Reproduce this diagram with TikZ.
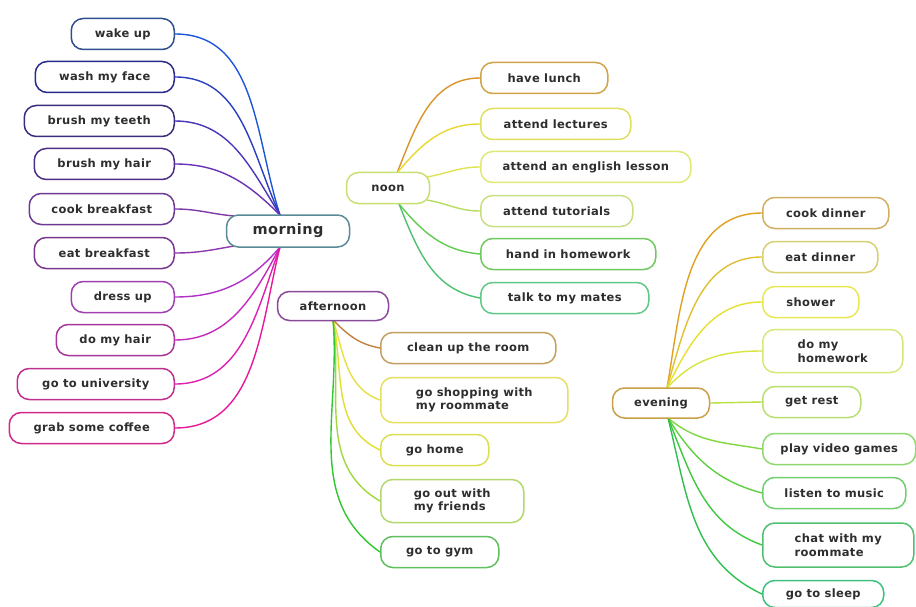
\documentclass[tikz,border=0pt]{standalone}
\usepackage{fontspec}
\newfontfamily\nodefont[LetterSpace=3]{DejaVu Sans}
\usetikzlibrary{backgrounds}
\definecolor{txt}{HTML}{2E2E2E}
% morning branch
\definecolor{mA}{HTML}{1F55D8}\definecolor{bA}{HTML}{2F4F8F}
\definecolor{mB}{HTML}{2A3FC0}\definecolor{bB}{HTML}{2A2A88}
\definecolor{mC}{HTML}{4A35B8}\definecolor{bC}{HTML}{3D2C7C}
\definecolor{mD}{HTML}{6A30B8}\definecolor{bD}{HTML}{4E2E86}
\definecolor{mE}{HTML}{7E3AA8}\definecolor{bE}{HTML}{6E3A94}
\definecolor{mF}{HTML}{9035B0}\definecolor{bF}{HTML}{7A3690}
\definecolor{mG}{HTML}{B030C8}\definecolor{bG}{HTML}{A040B0}
\definecolor{mH}{HTML}{C828C0}\definecolor{bH}{HTML}{A83598}
\definecolor{mI}{HTML}{DC20B0}\definecolor{bI}{HTML}{C03090}
\definecolor{mJ}{HTML}{E8189A}\definecolor{bJ}{HTML}{D02A88}
\definecolor{bMorning}{HTML}{5A8A98}
% noon branch
\definecolor{bNoon}{HTML}{C8E070}
\definecolor{n1}{HTML}{D89428}\definecolor{nb1}{HTML}{D0A448}
\definecolor{n2}{HTML}{E8D830}\definecolor{nb2}{HTML}{E0E060}
\definecolor{n3}{HTML}{E0E450}\definecolor{nb3}{HTML}{E0E878}
\definecolor{n4}{HTML}{B8DC60}\definecolor{nb4}{HTML}{C8E080}
\definecolor{n5}{HTML}{60CC50}\definecolor{nb5}{HTML}{70C860}
\definecolor{n6}{HTML}{50C070}\definecolor{nb6}{HTML}{60C888}
% afternoon branch
\definecolor{bAfter}{HTML}{8A4A9A}
\definecolor{a1}{HTML}{C48040}\definecolor{ab1}{HTML}{C4A060}
\definecolor{a2}{HTML}{E8E040}\definecolor{ab2}{HTML}{E8E060}
\definecolor{a3}{HTML}{E0E030}\definecolor{ab3}{HTML}{DCE050}
\definecolor{a4}{HTML}{A0D840}\definecolor{ab4}{HTML}{B4D870}
\definecolor{a5}{HTML}{30C830}\definecolor{ab5}{HTML}{60C060}
% evening branch
\definecolor{bEve}{HTML}{C8A048}
\definecolor{e1}{HTML}{E0A020}\definecolor{eb1}{HTML}{D0B060}
\definecolor{e2}{HTML}{E0C030}\definecolor{eb2}{HTML}{D8D070}
\definecolor{e3}{HTML}{E8E030}\definecolor{eb3}{HTML}{E8E850}
\definecolor{e4}{HTML}{D8E440}\definecolor{eb4}{HTML}{D8E878}
\definecolor{e5}{HTML}{B8E040}\definecolor{eb5}{HTML}{B8E070}
\definecolor{e6}{HTML}{80D840}\definecolor{eb6}{HTML}{90D870}
\definecolor{e7}{HTML}{60D040}\definecolor{eb7}{HTML}{70D070}
\definecolor{e8}{HTML}{40C840}\definecolor{eb8}{HTML}{50C070}
\definecolor{e9}{HTML}{30C050}\definecolor{eb9}{HTML}{40C080}
\tikzset{
  box/.style={draw, rounded corners=12pt, line width=1.5pt, fill=white,
    minimum height=31pt, inner xsep=4pt, inner ysep=3pt, text=txt,
    font=\nodefont\bfseries\fontsize{11.5}{13.5}\selectfont, align=left},
  link/.style={line width=1.4pt},
}
\begin{document}
\begin{tikzpicture}[x=1pt,y=1pt]
\useasboundingbox (0,0) rectangle (916,-607);
% hubs
\node[box, draw=bMorning, minimum width=123pt, minimum height=32pt,
  font=\nodefont\bfseries\fontsize{14.5}{16}\selectfont] (morning) at (288,-231) {morning};
\node[box, draw=bNoon, minimum width=83pt] (noon) at (388,-188) {noon};
\node[box, draw=bAfter, minimum width=111pt, minimum height=29pt] (afternoon) at (333,-306) {afternoon};
\node[box, draw=bEve, minimum width=97pt, minimum height=30pt] (evening) at (661,-403) {evening};
% morning children
\node[box, draw=bA, anchor=east, minimum width=103pt] (wake) at (175,-34) {wake up};
\node[box, draw=bB, anchor=east, minimum width=139pt] (wash) at (175,-77) {wash my face};
\node[box, draw=bC, anchor=east, minimum width=150pt] (teeth) at (175,-121) {brush my teeth};
\node[box, draw=bD, anchor=east, minimum width=140pt] (hair) at (175,-164) {brush my hair};
\node[box, draw=bE, anchor=east, minimum width=145pt] (cook) at (175,-209) {cook breakfast};
\node[box, draw=bF, anchor=east, minimum width=140pt] (eat) at (175,-253) {eat breakfast};
\node[box, draw=bG, anchor=east, minimum width=103pt] (dress) at (175,-297) {dress up};
\node[box, draw=bH, anchor=east, minimum width=118pt] (dohair) at (175,-340) {do my hair};
\node[box, draw=bI, anchor=east, minimum width=157pt] (univ) at (175,-384) {go to university};
\node[box, draw=bJ, anchor=east, minimum width=165pt] (coffee) at (175,-428) {grab some coffee};
% noon children
\node[box, draw=nb1, anchor=west, minimum width=127pt] (lunch) at (480,-78) {have lunch};
\node[box, draw=nb2, anchor=west, minimum width=150pt] (lectures) at (480,-124) {attend lectures};
\node[box, draw=nb3, anchor=west, minimum width=210pt] (english) at (480,-167) {attend an english lesson};
\node[box, draw=nb4, anchor=west, minimum width=152pt] (tutorials) at (480,-211) {attend tutorials};
\node[box, draw=nb5, anchor=west, minimum width=175pt] (handin) at (480,-254) {hand in homework};
\node[box, draw=nb6, anchor=west, minimum width=168pt] (mates) at (480,-298) {talk to my mates};
% afternoon children
\node[box, draw=ab1, anchor=west, minimum width=175pt] (clean) at (380,-348) {clean up the room};
\node[box, draw=ab2, anchor=west, minimum width=187pt, minimum height=45pt] (shopping) at (380,-400) {go shopping with\\my roommate};
\node[box, draw=ab3, anchor=west, minimum width=108pt] (home) at (380,-450) {go home};
\node[box, draw=ab4, anchor=west, minimum width=143pt, minimum height=43pt] (goout) at (380,-501) {go out with\\my friends};
\node[box, draw=ab5, anchor=west, minimum width=118pt] (gym) at (380,-552) {go to gym};
% evening children
\node[box, draw=eb1, anchor=west, minimum width=126pt] (cookd) at (762,-213) {cook dinner};
\node[box, draw=eb2, anchor=west, minimum width=115pt] (eatd) at (762,-257) {eat dinner};
\node[box, draw=eb3, anchor=west, minimum width=96pt] (shower) at (762,-302) {shower};
\node[box, draw=eb4, anchor=west, minimum width=140pt, minimum height=43pt] (homew) at (762,-351) {do my\\homework};
\node[box, draw=eb5, anchor=west, minimum width=98pt] (rest) at (762,-402) {get rest};
\node[box, draw=eb6, anchor=west, minimum width=153pt] (games) at (762,-449) {play video games};
\node[box, draw=eb7, anchor=west, minimum width=143pt] (music) at (762,-493) {listen to music};
\node[box, draw=eb8, anchor=west, minimum width=151pt, minimum height=44pt] (chat) at (762,-545) {chat with my\\roommate};
\node[box, draw=eb9, anchor=west, minimum width=121pt, minimum height=27pt] (sleep) at (762,-594) {go to sleep};
% hub points
\coordinate (mt) at (280,-215);
\coordinate (mb) at (280,-247);
\coordinate (mtl) at (234,-216);
\coordinate (mbl) at (234,-246);
\coordinate (nt) at (397,-173);
\coordinate (nb) at (399,-204);
\coordinate (nr1) at (427,-177);
\coordinate (nr2) at (427,-200);
\coordinate (ab) at (333,-320);
\coordinate (et) at (667,-388);
\coordinate (eb) at (668,-418);
\begin{pgfonlayer}{background}
\fill[white] (0,0) rectangle (916,-607);
\draw[link, mA] (wake.east) to[out=0, in=108] (mt);
\draw[link, mB] (wash.east) to[out=0, in=115] (mt);
\draw[link, mC] (teeth.east) to[out=0, in=122] (mt);
\draw[link, mD] (hair.east) to[out=0, in=135] (mt);
\draw[link, mE] (cook.east) to[out=0, in=175] (mtl);
\draw[link, mF] (eat.east) to[out=0, in=190] (mbl);
\draw[link, mG] (dress.east) to[out=0, in=-130] (mb);
\draw[link, mH] (dohair.east) to[out=0, in=-118] (mb);
\draw[link, mI] (univ.east) to[out=0, in=-110] (mb);
\draw[link, mJ] (coffee.east) to[out=0, in=-104] (mb);
\draw[link, n1] (nt) to[out=68, in=180] (lunch.west);
\draw[link, n2] (nt) to[out=50, in=180] (lectures.west);
\draw[link, n3] (nr1) to[out=10, in=180] (english.west);
\draw[link, n4] (nr2) to[out=-10, in=180] (tutorials.west);
\draw[link, n5] (nb) to[out=-50, in=175] (handin.west);
\draw[link, n6] (nb) to[out=-68, in=170] (mates.west);
\draw[link, a1] (ab) to[out=-45, in=170] (clean.west);
\draw[link, a2] (ab) to[out=-72, in=160] (shopping.west);
\draw[link, a3] (ab) to[out=-78, in=155] (home.west);
\draw[link, a4] (ab) to[out=-82, in=150] (goout.west);
\draw[link, a5] (ab) to[out=-85, in=145] (gym.west);
\draw[link, e1] (et) to[out=80, in=180] (cookd.west);
\draw[link, e2] (et) to[out=74, in=180] (eatd.west);
\draw[link, e3] (et) to[out=64, in=180] (shower.west);
\draw[link, e4] (et) to[out=48, in=180] (homew.west);
\draw[link, e5] (evening.east) -- (rest.west);
\draw[link, e6] (eb) to[out=-40, in=170] (games.west);
\draw[link, e7] (eb) to[out=-58, in=165] (music.west);
\draw[link, e8] (eb) to[out=-68, in=160] (chat.west);
\draw[link, e9] (eb) to[out=-76, in=155] (sleep.west);
\end{pgfonlayer}
\end{tikzpicture}
\end{document}
